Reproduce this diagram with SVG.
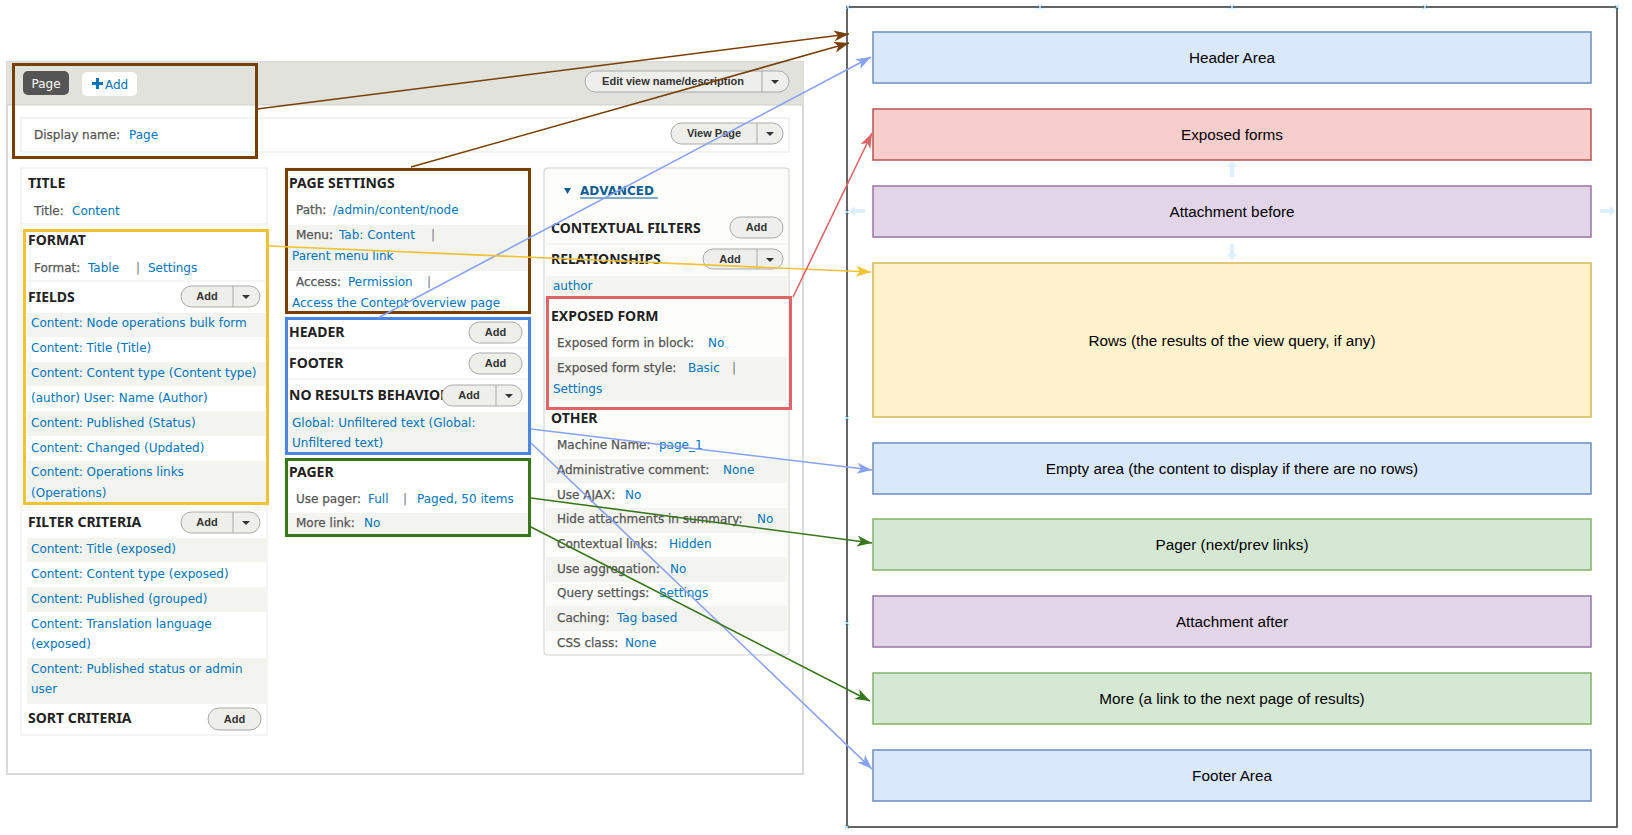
<svg xmlns="http://www.w3.org/2000/svg" width="1632" height="835" viewBox="0 0 1632 835">
<style>
text{font-family:"DejaVu Sans",Verdana,sans-serif;font-size:12px}
.h{font-family:"Noto Sans","DejaVu Sans",sans-serif;font-size:14px;font-weight:bold;fill:#222}
.l{fill:#555;stroke:#555;stroke-width:0.25}
.k{fill:#0074bd}
.s{fill:#777}
.row{fill:#f3f3ef}
.ln{stroke:#ebebeb;stroke-width:1}
.btn{fill:#eeeeea;stroke:#a9a9a9;stroke-width:1}
.div{stroke:#a9a9a9;stroke-width:1}
.bt{font-family:"Liberation Sans",Arial,sans-serif;font-size:11px;font-weight:bold;fill:#333;text-anchor:middle}
.dd{fill:#333}
.area text{font-family:"Liberation Sans",Arial,sans-serif;font-size:15.3px;fill:#000;text-anchor:middle}
.ar{stroke-width:1.5}
.hl{fill:none;stroke-width:3}
.cn{fill:none;stroke-width:1.6}
.g{stroke:#8fd0f5;stroke-width:1;fill:none}
.ga{fill:#dcefff}
</style>
<defs>
<marker id="mBr" markerUnits="userSpaceOnUse" markerWidth="16" markerHeight="12" viewBox="0 0 16 12" refX="15" refY="6" orient="auto"><path d="M0,0.5 L15,6 L0,11.5 L4,6 z" fill="#783f04"/></marker>
<marker id="mBl" markerUnits="userSpaceOnUse" markerWidth="16" markerHeight="12" viewBox="0 0 16 12" refX="15" refY="6" orient="auto"><path d="M0,0.5 L15,6 L0,11.5 L4,6 z" fill="#88a2f2"/></marker>
<marker id="mYe" markerUnits="userSpaceOnUse" markerWidth="16" markerHeight="12" viewBox="0 0 16 12" refX="15" refY="6" orient="auto"><path d="M0,0.5 L15,6 L0,11.5 L4,6 z" fill="#f1c232"/></marker>
<marker id="mRe" markerUnits="userSpaceOnUse" markerWidth="16" markerHeight="12" viewBox="0 0 16 12" refX="15" refY="6" orient="auto"><path d="M0,0.5 L15,6 L0,11.5 L4,6 z" fill="#dd6464"/></marker>
<marker id="mGr" markerUnits="userSpaceOnUse" markerWidth="16" markerHeight="12" viewBox="0 0 16 12" refX="15" refY="6" orient="auto"><path d="M0,0.5 L15,6 L0,11.5 L4,6 z" fill="#38761d"/></marker>
</defs>

<rect width="1632" height="835" fill="#fff"/>

<!-- screenshot -->
<g id="screenshot">
<rect x="7" y="62" width="796" height="712" fill="#fff" stroke="#d9d9d9" stroke-width="2"/>
<rect x="7" y="62" width="796" height="43" fill="#e1e2dc"/>
<line x1="7" y1="105" x2="803" y2="105" stroke="#cfcfca"/>
<rect x="23" y="71" width="46" height="24" rx="5" fill="#555"/>
<text x="46" y="88" fill="#fff" font-size="13" text-anchor="middle">Page</text>
<rect x="82" y="72" width="55" height="24" rx="5" fill="#fff"/>
<path d="M92,82 h4 v-4 h3 v4 h4 v3 h-4 v4 h-3 v-4 h-4 z" fill="#0074bd"/>
<text x="105" y="89" class="k" font-size="13.5">Add</text>
<rect x="585" y="71" width="204" height="21" rx="10.5" class="btn"/>
<line x1="762" y1="71" x2="762" y2="92" class="div"/>
<text x="673" y="85" class="bt">Edit view name/description</text>
<path d="M771,80 h8 l-4,4 z" class="dd"/>

<rect x="21" y="118" width="768" height="34" fill="#fff" stroke="#e8e8e8"/>
<text x="34" y="139"><tspan class="l">Display name:</tspan><tspan class="k" x="129">Page</tspan></text>
<rect x="671" y="123" width="112" height="21" rx="10.5" class="btn"/>
<line x1="757" y1="123" x2="757" y2="144" class="div"/>
<text x="714" y="137" class="bt">View Page</text>
<path d="M766,132 h8 l-4,4 z" class="dd"/>

<!-- left column -->
<rect x="21" y="168" width="246" height="567" fill="#fff" stroke="#ececec"/>
<text x="28" y="188" class="h">TITLE</text>
<text x="34" y="215"><tspan class="l">Title:</tspan><tspan class="k" x="72">Content</tspan></text>
<line x1="21" y1="224" x2="267" y2="224" class="ln"/>
<text x="28" y="245" class="h">FORMAT</text>
<text x="34" y="272"><tspan class="l">Format:</tspan><tspan class="k" x="88">Table</tspan><tspan class="s" x="136">|</tspan><tspan class="k" x="148">Settings</tspan></text>
<line x1="27" y1="281" x2="267" y2="281" class="ln"/>
<text x="28" y="302" class="h">FIELDS</text>
<rect x="181" y="286" width="79" height="21" rx="10.5" class="btn"/>
<line x1="233" y1="286" x2="233" y2="307" class="div"/>
<text x="207" y="300" class="bt">Add</text>
<path d="M242,295 h8 l-4,4 z" class="dd"/>
<rect x="27" y="313" width="240" height="24" class="row"/>
<rect x="27" y="362" width="240" height="24" class="row"/>
<rect x="27" y="411" width="240" height="25" class="row"/>
<rect x="27" y="461" width="240" height="44" class="row"/>
<text x="31" y="327" class="k">Content: Node operations bulk form</text>
<text x="31" y="352" class="k">Content: Title (Title)</text>
<text x="31" y="377" class="k">Content: Content type (Content type)</text>
<text x="31" y="402" class="k">(author) User: Name (Author)</text>
<text x="31" y="427" class="k">Content: Published (Status)</text>
<text x="31" y="452" class="k">Content: Changed (Updated)</text>
<text x="31" y="476" class="k">Content: Operations links</text>
<text x="31" y="497" class="k">(Operations)</text>
<text x="28" y="527" class="h">FILTER CRITERIA</text>
<rect x="181" y="512" width="79" height="21" rx="10.5" class="btn"/>
<line x1="233" y1="512" x2="233" y2="533" class="div"/>
<text x="207" y="526" class="bt">Add</text>
<path d="M242,521 h8 l-4,4 z" class="dd"/>
<rect x="27" y="538" width="240" height="24" class="row"/>
<rect x="27" y="587" width="240" height="25" class="row"/>
<rect x="27" y="658" width="240" height="46" class="row"/>
<text x="31" y="553" class="k">Content: Title (exposed)</text>
<text x="31" y="578" class="k">Content: Content type (exposed)</text>
<text x="31" y="603" class="k">Content: Published (grouped)</text>
<text x="31" y="628" class="k">Content: Translation language</text>
<text x="31" y="648" class="k">(exposed)</text>
<text x="31" y="673" class="k">Content: Published status or admin</text>
<text x="31" y="693" class="k">user</text>
<text x="28" y="723" class="h">SORT CRITERIA</text>
<rect x="208" y="708" width="53" height="22" rx="11" class="btn"/>
<text x="234.5" y="723" class="bt">Add</text>

<!-- middle column -->
<rect x="285" y="168" width="246" height="369" fill="#fff" stroke="#ececec"/>
<text x="289" y="188" class="h">PAGE SETTINGS</text>
<text x="296" y="214"><tspan class="l">Path:</tspan><tspan class="k" x="333">/admin/content/node</tspan></text>
<rect x="288" y="225" width="241" height="46" class="row"/>
<text x="296" y="239"><tspan class="l">Menu:</tspan><tspan class="k" x="339">Tab: Content</tspan><tspan class="s" x="431">|</tspan></text>
<text x="292" y="260" class="k">Parent menu link</text>
<text x="296" y="286"><tspan class="l">Access:</tspan><tspan class="k" x="348">Permission</tspan><tspan class="s" x="427">|</tspan></text>
<text x="292" y="307" class="k">Access the Content overview page</text>
<text x="289" y="337" class="h">HEADER</text>
<rect x="469" y="322" width="53" height="21" rx="10.5" class="btn"/>
<text x="495.5" y="336" class="bt">Add</text>
<line x1="288" y1="348" x2="529" y2="348" class="ln"/>
<text x="289" y="368" class="h">FOOTER</text>
<rect x="469" y="353" width="53" height="21" rx="10.5" class="btn"/>
<text x="495.5" y="367" class="bt">Add</text>
<line x1="288" y1="379" x2="529" y2="379" class="ln"/>
<text x="289" y="400" class="h">NO RESULTS BEHAVIOR</text>
<rect x="442" y="385" width="80" height="21" rx="10.5" class="btn"/>
<line x1="496" y1="385" x2="496" y2="406" class="div"/>
<text x="469" y="399" class="bt">Add</text>
<path d="M505,394 h8 l-4,4 z" class="dd"/>
<rect x="288" y="412" width="241" height="40" class="row"/>
<text x="292" y="427" class="k">Global: Unfiltered text (Global:</text>
<text x="292" y="447" class="k">Unfiltered text)</text>
<text x="289" y="477" class="h">PAGER</text>
<text x="296" y="503"><tspan class="l">Use pager:</tspan><tspan class="k" x="368">Full</tspan><tspan class="s" x="403">|</tspan><tspan class="k" x="417">Paged, 50 items</tspan></text>
<rect x="288" y="513" width="241" height="21" class="row"/>
<text x="296" y="527"><tspan class="l">More link:</tspan><tspan class="k" x="364">No</tspan></text>

<!-- right column -->
<rect x="544" y="168" width="245" height="487" rx="3" fill="#fcfcfa" stroke="#cfcfcf"/>
<path d="M564,188 h7 l-3.5,6 z" fill="#125d91"/>
<text x="580" y="195" font-family="Noto Sans, DejaVu Sans, sans-serif" font-size="13.5" font-weight="bold" fill="#125d91">ADVANCED</text>
<line x1="580" y1="198" x2="658" y2="198" stroke="#125d91" stroke-width="1"/>
<text x="551" y="233" class="h">CONTEXTUAL FILTERS</text>
<rect x="730" y="217" width="53" height="21" rx="10.5" class="btn"/>
<text x="756.5" y="231" class="bt">Add</text>
<line x1="546" y1="244" x2="787" y2="244" class="ln"/>
<text x="551" y="264" class="h">RELATIONSHIPS</text>
<rect x="703" y="249" width="80" height="20" rx="10" class="btn"/>
<line x1="757" y1="249" x2="757" y2="269" class="div"/>
<text x="730" y="263" class="bt">Add</text>
<path d="M766,258 h8 l-4,4 z" class="dd"/>
<rect x="546" y="276" width="241" height="20" class="row"/>
<text x="553" y="290" class="k">author</text>
<text x="551" y="321" class="h">EXPOSED FORM</text>
<text x="557" y="347"><tspan class="l">Exposed form in block:</tspan><tspan class="k" x="708">No</tspan></text>
<rect x="548" y="357" width="239" height="44" class="row"/>
<text x="557" y="372"><tspan class="l">Exposed form style:</tspan><tspan class="k" x="688">Basic</tspan><tspan class="s" x="732">|</tspan></text>
<text x="553" y="393" class="k">Settings</text>
<text x="551" y="423" class="h">OTHER</text>
<rect x="546" y="459" width="241" height="24" class="row"/>
<rect x="546" y="508" width="241" height="25" class="row"/>
<rect x="546" y="557" width="241" height="25" class="row"/>
<rect x="546" y="606" width="241" height="25" class="row"/>
<text x="557" y="449"><tspan class="l">Machine Name:</tspan><tspan class="k" x="659">page_1</tspan></text>
<text x="557" y="474"><tspan class="l">Administrative comment:</tspan><tspan class="k" x="723">None</tspan></text>
<text x="557" y="499"><tspan class="l">Use AJAX:</tspan><tspan class="k" x="625">No</tspan></text>
<text x="557" y="523"><tspan class="l">Hide attachments in summary:</tspan><tspan class="k" x="757">No</tspan></text>
<text x="557" y="548"><tspan class="l">Contextual links:</tspan><tspan class="k" x="669">Hidden</tspan></text>
<text x="557" y="573"><tspan class="l">Use aggregation:</tspan><tspan class="k" x="670">No</tspan></text>
<text x="557" y="597"><tspan class="l">Query settings:</tspan><tspan class="k" x="659">Settings</tspan></text>
<text x="557" y="622"><tspan class="l">Caching:</tspan><tspan class="k" x="617">Tag based</tspan></text>
<text x="557" y="647"><tspan class="l">CSS class:</tspan><tspan class="k" x="625">None</tspan></text>
</g>

<!-- highlight frames -->
<g id="hl-display"><rect x="13.5" y="64.5" width="243" height="93" class="hl" stroke="#783f04"/></g>
<g id="hl-page-settings"><rect x="286.5" y="169.5" width="243" height="143" class="hl" stroke="#783f04"/></g>
<g id="hl-format"><rect x="24.5" y="230.5" width="243" height="273" class="hl" stroke="#f1c232"/></g>
<g id="hl-header-footer"><rect x="286.5" y="318.5" width="243" height="135" class="hl" stroke="#4a86e8"/></g>
<g id="hl-pager"><rect x="286.5" y="459.5" width="243" height="76" class="hl" stroke="#38761d"/></g>
<g id="hl-exposed"><rect x="547.5" y="297.5" width="243" height="111" class="hl" stroke="#e06666"/></g>

<!-- page layout panel -->
<g id="layout-frame">
<rect x="847" y="7" width="770" height="820" fill="none" stroke="#333" stroke-width="1.5"/>
</g>
<g class="area">
<g id="header-area"><rect x="873" y="32" width="718" height="51" fill="#dae8fc" stroke="#6c8ebf" class="ar"/><text x="1232" y="63">Header Area</text></g>
<g id="exposed-forms"><rect x="873" y="109" width="718" height="51" fill="#f8cecc" stroke="#b85450" class="ar"/><text x="1232" y="140">Exposed forms</text></g>
<g id="attachment-before"><rect x="873" y="186" width="718" height="51" fill="#e1d5e7" stroke="#9673a6" class="ar"/><text x="1232" y="217">Attachment before</text></g>
<g id="rows"><rect x="873" y="263" width="718" height="154" fill="#fff2cc" stroke="#d6b656" class="ar"/><text x="1232" y="345.5">Rows (the results of the view query, if any)</text></g>
<g id="empty-area"><rect x="873" y="443" width="718" height="51" fill="#dae8fc" stroke="#6c8ebf" class="ar"/><text x="1232" y="474">Empty area (the content to display if there are no rows)</text></g>
<g id="pager"><rect x="873" y="519" width="718" height="51" fill="#d5e8d4" stroke="#82b366" class="ar"/><text x="1232" y="550">Pager (next/prev links)</text></g>
<g id="attachment-after"><rect x="873" y="596" width="718" height="51" fill="#e1d5e7" stroke="#9673a6" class="ar"/><text x="1232" y="627">Attachment after</text></g>
<g id="more"><rect x="873" y="673" width="718" height="51" fill="#d5e8d4" stroke="#82b366" class="ar"/><text x="1232" y="704">More (a link to the next page of results)</text></g>
<g id="footer-area"><rect x="873" y="750" width="718" height="51" fill="#dae8fc" stroke="#6c8ebf" class="ar"/><text x="1232" y="781">Footer Area</text></g>
</g>

<!-- faint editor guides -->
<g id="guides">
<path class="g" d="M846,5 l4,4 M850,5 l-4,4 M1038,5 l4,4 M1042,5 l-4,4 M1230,5 l4,4 M1234,5 l-4,4 M1423,5 l4,4 M1427,5 l-4,4 M1615,5 l4,4 M1619,5 l-4,4"/>
<path class="g" d="M845,416 l4,4 M849,416 l-4,4 M845,621 l4,4 M849,621 l-4,4 M845,825 l4,4 M849,825 l-4,4 M845,210 l4,4 M849,210 l-4,4"/>
<path class="ga" d="M1232,161 l-5,6 h3 v10 h4 v-10 h3 z"/>
<path class="ga" d="M1232,260 l-5,-6 h3 v-10 h4 v10 h3 z"/>
<path class="ga" d="M849,211 l6,-5 v3 h10 v4 h-10 v3 z"/>
<path class="ga" d="M1616,211 l-6,-5 v3 h-10 v4 h10 v3 z"/>
</g>

<!-- connectors -->
<g id="connectors">
<path class="cn" stroke="#783f04" d="M257,109 L849,34" marker-end="url(#mBr)"/>
<path class="cn" stroke="#783f04" d="M411,167 L849,43" marker-end="url(#mBr)"/>
<path class="cn" stroke="#88a2f2" d="M378,318 L871,57" marker-end="url(#mBl)"/>
<path class="cn" stroke="#f1c232" d="M269,246 L871,272" marker-end="url(#mYe)"/>
<path class="cn" stroke="#dd6464" d="M793,297 L872,133" marker-end="url(#mRe)"/>
<path class="cn" stroke="#88a2f2" d="M531,429 L872,470" marker-end="url(#mBl)"/>
<path class="cn" stroke="#88a2f2" d="M531,443 L872,769" marker-end="url(#mBl)"/>
<path class="cn" stroke="#38761d" d="M531,498 L872,543" marker-end="url(#mGr)"/>
<path class="cn" stroke="#38761d" d="M531,527 L870,701" marker-end="url(#mGr)"/>
</g>
</svg>
